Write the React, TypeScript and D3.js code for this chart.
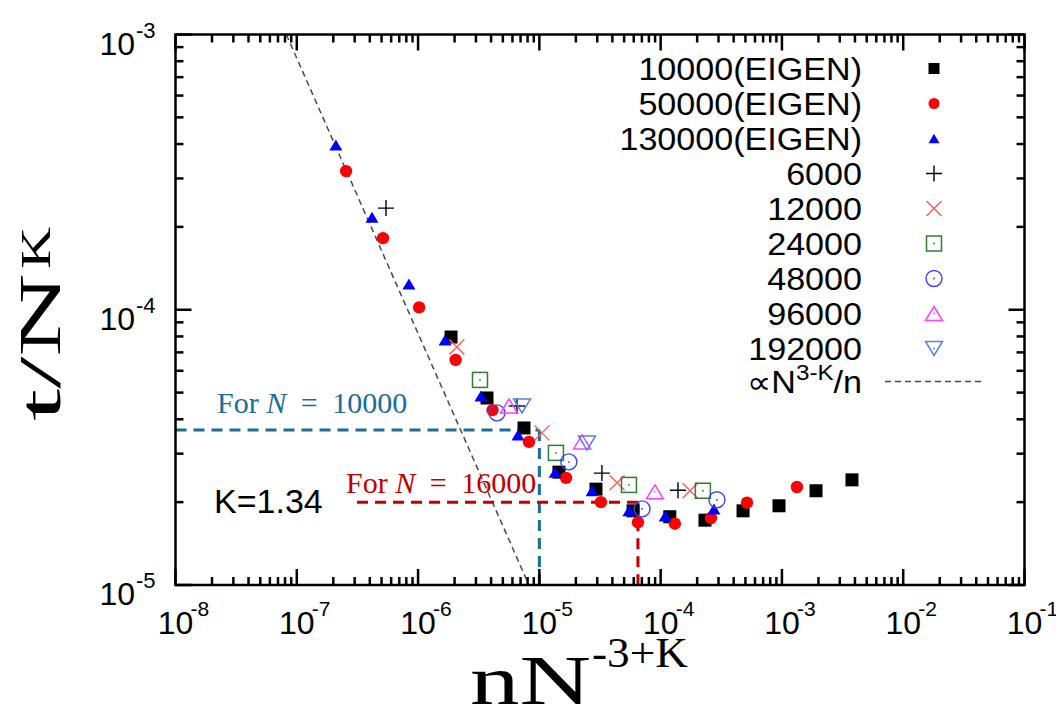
import React from 'react';
import * as d3 from 'd3';

// ---------- data ----------
const xTickExps = [-8, -7, -6, -5, -4, -3, -2, -1];
const yTickExps = [-5, -4, -3];

const eigen10000: [number, number][] = [
  [1.87e-6, 7.96e-5], [3.7e-6, 4.78e-5], [7.47e-6, 3.72e-5], [1.45e-5, 2.57e-5],
  [2.93e-5, 2.23e-5], [5.92e-5, 1.86e-5], [1.19e-4, 1.77e-5], [2.32e-4, 1.72e-5],
  [4.78e-4, 1.86e-5], [9.46e-4, 1.94e-5], [1.91e-3, 2.2e-5], [3.78e-3, 2.41e-5],
];
const eigen50000: [number, number][] = [
  [2.55e-7, 3.19e-4], [5.14e-7, 1.82e-4], [1.02e-6, 1.02e-4], [2.04e-6, 6.57e-5],
  [4.11e-6, 4.32e-5], [8.21e-6, 3.31e-5], [1.66e-5, 2.45e-5], [3.22e-5, 2.0e-5],
  [6.5e-5, 1.69e-5], [1.31e-4, 1.67e-5], [2.6e-4, 1.75e-5], [5.15e-4, 1.99e-5],
  [1.33e-3, 2.27e-5],
];
const eigen130000: [number, number][] = [
  [2.1e-7, 3.97e-4], [4.17e-7, 2.17e-4], [8.41e-7, 1.24e-4], [1.67e-6, 7.77e-5],
  [3.3e-6, 4.86e-5], [6.67e-6, 3.51e-5], [1.35e-5, 2.57e-5], [2.72e-5, 2.2e-5],
  [5.48e-5, 1.86e-5], [1.09e-4, 1.78e-5], [2.75e-4, 1.89e-5],
];
const n6000: [number, number][] = [[5.44e-7, 2.34e-4], [6.54e-6, 4.47e-5], [3.28e-5, 2.55e-5], [1.39e-4, 2.21e-5]];
const n12000: [number, number][] = [[2.09e-6, 7.32e-5], [1.05e-5, 3.57e-5], [4.37e-5, 2.35e-5], [1.75e-4, 2.2e-5]];
const n24000: [number, number][] = [[3.24e-6, 5.56e-5], [1.37e-5, 3.02e-5], [5.48e-5, 2.31e-5], [2.23e-4, 2.2e-5]];
const n48000: [number, number][] = [[4.47e-6, 4.22e-5], [1.75e-5, 2.8e-5], [7.02e-5, 1.89e-5], [2.91e-4, 2.04e-5]];
const n96000: [number, number][] = [[5.62e-6, 4.47e-5], [2.25e-5, 3.31e-5], [8.97e-5, 2.18e-5]];
const n192000: [number, number][] = [[7.19e-6, 4.47e-5], [2.47e-5, 3.28e-5]];

const seriesLabels = ['10000(EIGEN)', '50000(EIGEN)', '130000(EIGEN)', '6000', '12000', '24000', '48000', '96000', '192000'];
const seriesData = [eigen10000, eigen50000, eigen130000, n6000, n12000, n24000, n48000, n96000, n192000];
const seriesSymbols = ['sqFill', 'circFill', 'triFill', 'plus', 'cross', 'sqOpen', 'circOpen', 'triOpen', 'triDown'];
const seriesColors = ['#000000', '#ff0000', '#0000ff', '#000000', '#ff5a5a', '#2e7d32', '#4040ff', '#ff40ff', '#5a80e0'];

const refConst = 8.2e-11; // t/N^K ∝ N^{3-K}/n  → y = C / x
const blueGuide = { x: 1e-5, y: 3.66e-5 };
const redGuide = { x: 6.5e-5, y: 2.0e-5, xStart: 3.14e-7 };

// ---------- layout ----------
const W = 1056, H = 716;
const L = 175.5, R = 1024.5, T = 34.5, B = 585;

const x = d3.scaleLog().domain([1e-8, 1e-1]).range([L, R]);
const y = d3.scaleLog().domain([1e-5, 1e-3]).range([B, T]);

function Marker({ sym, color, cx, cy, legend }: { sym: string; color: string; cx: number; cy: number; legend?: boolean }) {
  const dot = <circle cx={cx} cy={cy} r={0.9} fill={color} />;
  switch (sym) {
    case 'sqFill': {
      const s = legend ? 11 : 13;
      return <rect x={cx - s / 2} y={cy - s / 2} width={s} height={s} fill={color} />;
    }
    case 'circFill':
      return <circle cx={cx} cy={cy} r={legend ? 5.5 : 6.2} fill={color} />;
    case 'triFill': {
      const w = legend ? 11 : 13, h = legend ? 9.5 : 11;
      return <path d={`M${cx - w / 2},${cy + h / 2}L${cx + w / 2},${cy + h / 2}L${cx},${cy - h / 2}Z`} fill={color} />;
    }
    case 'plus': {
      const s = 8;
      return <path d={`M${cx - s},${cy}H${cx + s}M${cx},${cy - s}V${cy + s}`} stroke={color} strokeWidth={1.4} fill="none" />;
    }
    case 'cross': {
      const s = 7.5;
      return <path d={`M${cx - s},${cy - s}L${cx + s},${cy + s}M${cx - s},${cy + s}L${cx + s},${cy - s}`} stroke={color} strokeWidth={1.4} fill="none" />;
    }
    case 'sqOpen': {
      const s = 15;
      return <g><rect x={cx - s / 2} y={cy - s / 2} width={s} height={s} fill="none" stroke={color} strokeWidth={1.5} />{dot}</g>;
    }
    case 'circOpen':
      return <g><circle cx={cx} cy={cy} r={8} fill="none" stroke={color} strokeWidth={1.4} />{dot}</g>;
    case 'triOpen': {
      const w = 17, h = 14;
      return <g><path d={`M${cx - w / 2},${cy + h / 2}L${cx + w / 2},${cy + h / 2}L${cx},${cy - h / 2}Z`} fill="none" stroke={color} strokeWidth={1.5} />{dot}</g>;
    }
    case 'triDown': {
      const w = 17, h = 14;
      return <g><path d={`M${cx - w / 2},${cy - h / 2}L${cx + w / 2},${cy - h / 2}L${cx},${cy + h / 2}Z`} fill="none" stroke={color} strokeWidth={1.5} />{dot}</g>;
    }
  }
  return null;
}

export default function App() {
  const majorLen = 16, minorLen = 8;
  const ticks: JSX.Element[] = [];
  xTickExps.forEach((e) => {
    const v = Math.pow(10, e);
    const px = x(v);
    ticks.push(<line key={`xb${e}`} x1={px} x2={px} y1={B} y2={B - majorLen} />);
    ticks.push(<line key={`xt${e}`} x1={px} x2={px} y1={T} y2={T + majorLen} />);
    if (e < -1) {
      for (let k = 2; k <= 9; k++) {
        const mx = x(k * v);
        ticks.push(<line key={`xbm${e}_${k}`} x1={mx} x2={mx} y1={B} y2={B - minorLen} />);
        ticks.push(<line key={`xtm${e}_${k}`} x1={mx} x2={mx} y1={T} y2={T + minorLen} />);
      }
    }
  });
  yTickExps.forEach((e) => {
    const v = Math.pow(10, e);
    const py = y(v);
    ticks.push(<line key={`yl${e}`} x1={L} x2={L + majorLen} y1={py} y2={py} />);
    ticks.push(<line key={`yr${e}`} x1={R} x2={R - majorLen} y1={py} y2={py} />);
    if (e < -3) {
      for (let k = 2; k <= 9; k++) {
        const my = y(k * v);
        ticks.push(<line key={`ylm${e}_${k}`} x1={L} x2={L + minorLen} y1={my} y2={my} />);
        ticks.push(<line key={`yrm${e}_${k}`} x1={R} x2={R - minorLen} y1={my} y2={my} />);
      }
    }
  });

  const refLine = d3.line<[number, number]>().x(d => x(d[0])).y(d => y(d[1]));
  const refPts: [number, number][] = [[refConst / 1e-3, 1e-3], [refConst / 1e-5, 1e-5]];

  const sans = "'Liberation Sans', Arial, sans-serif";
  const serif = "'Liberation Serif', 'Times New Roman', serif";

  const legendX = 934, legendTextX = 862, legendY0 = 68.5, legendDy = 35;

  return (
    <svg width={W} height={H} style={{ position: 'absolute', left: 0, top: 0, background: '#fff' }}>
      <rect x={0} y={0} width={W} height={H} fill="#fff" />
      <defs>
        <clipPath id="plotClip"><rect x={L} y={T} width={R - L} height={B - T} /></clipPath>
      </defs>

      {/* reference line */}
      <path d={refLine(refPts) || ''} clipPath="url(#plotClip)" stroke="#4a4a4a" strokeWidth={1.5} strokeDasharray="6,4" fill="none" />

      {/* guides */}
      <g fill="none" strokeWidth={3} strokeDasharray="11,7">
        <path d={`M${L},${y(blueGuide.y)}H${x(blueGuide.x)}`} stroke="#1a6e96" />
        <path d={`M${x(blueGuide.x)},${y(blueGuide.y)}V${B}`} stroke="#1a6e96" />
        <path d={`M${x(redGuide.xStart)},${y(redGuide.y)}H${x(redGuide.x)}`} stroke="#c00000" />
        <path d={`M${x(redGuide.x)},${y(redGuide.y)}V${B}`} stroke="#c00000" />
      </g>

      {/* data */}
      {seriesData.map((data, si) => (
        <g key={si}>
          {data.map((d, i) => (
            <Marker key={i} sym={seriesSymbols[si]} color={seriesColors[si]} cx={x(d[0])} cy={y(d[1])} />
          ))}
        </g>
      ))}

      {/* frame & ticks */}
      <g stroke="#000" strokeWidth={2.5}>{ticks}</g>
      <rect x={L} y={T} width={R - L} height={B - T} fill="none" stroke="#000" strokeWidth={2.5} />

      {/* y tick labels */}
      {yTickExps.map((e) => {
        const py = y(Math.pow(10, e));
        return (
          <g key={`ytl${e}`} fontFamily={sans} fill="#000">
            <text x={135} y={py + 20} fontSize={32} textAnchor="end">10</text>
            <text x={136} y={py + 3} fontSize={22}>{`-${-e}`}</text>
          </g>
        );
      })}
      {/* x tick labels */}
      {xTickExps.map((e) => {
        const px = x(Math.pow(10, e));
        return (
          <g key={`xtl${e}`} fontFamily={sans} fill="#000">
            <text x={px} y={634} fontSize={32} textAnchor="middle">10</text>
            <text x={px + 15} y={616} fontSize={21}>{`-${-e}`}</text>
          </g>
        );
      })}

      {/* axis titles */}
      <text x={470} y={704} fontFamily={serif} fontSize={70} fill="#000" textLength={121} lengthAdjust="spacingAndGlyphs">nN</text>
      <text x={592} y={667} fontFamily={serif} fontSize={42} fill="#000" textLength={96} lengthAdjust="spacingAndGlyphs">-3+K</text>
      <g transform="translate(60,421) rotate(-90)">
        <text x={0} y={0} fontFamily={serif} fontSize={60} fill="#000" textLength={148} lengthAdjust="spacingAndGlyphs">t/N</text>
        <text x={152} y={-10} fontFamily={serif} fontSize={42} fill="#000" textLength={42} lengthAdjust="spacingAndGlyphs">K</text>
      </g>

      {/* legend */}
      {seriesLabels.map((lab, i) => {
        const cy = legendY0 + i * legendDy;
        return (
          <g key={`lg${i}`}>
            <text transform={`translate(${legendTextX},${cy + 11}) scale(1.1,1)`} fontFamily={sans} fontSize={31} textAnchor="end" fill="#000">{lab}</text>
            <Marker sym={seriesSymbols[i]} color={seriesColors[i]} cx={legendX} cy={cy} legend />
          </g>
        );
      })}
      {(() => {
        const cy = legendY0 + seriesLabels.length * legendDy - 2;
        return (
          <g>
            <text transform={`translate(${legendTextX},${cy + 11}) scale(1.1,1)`} fontFamily={sans} fontSize={31} textAnchor="end" fill="#000">
              <tspan fontFamily="'DejaVu Sans', sans-serif">∝</tspan>N<tspan fontSize={22} dy={-13}>3-K</tspan><tspan dy={13}>/n</tspan>
            </text>
            <path d={`M885,${cy}H985`} stroke="#4a4a4a" strokeWidth={1.5} strokeDasharray="6,4" />
          </g>
        );
      })()}

      {/* annotations */}
      <text x={217} y={413} fontFamily={serif} fontSize={30} fill="#1a6e96">
        For <tspan fontStyle="italic">N</tspan><tspan dx={7}> =</tspan><tspan dx={7}> 10000</tspan>
      </text>
      <text x={346} y={493} fontFamily={serif} fontSize={30} fill="#c00000">
        For <tspan fontStyle="italic">N</tspan><tspan dx={7}> =</tspan><tspan dx={7}> 16000</tspan>
      </text>
      <text x={214} y={513} fontFamily={sans} fontSize={34} fill="#000">K=1.34</text>
    </svg>
  );
}
